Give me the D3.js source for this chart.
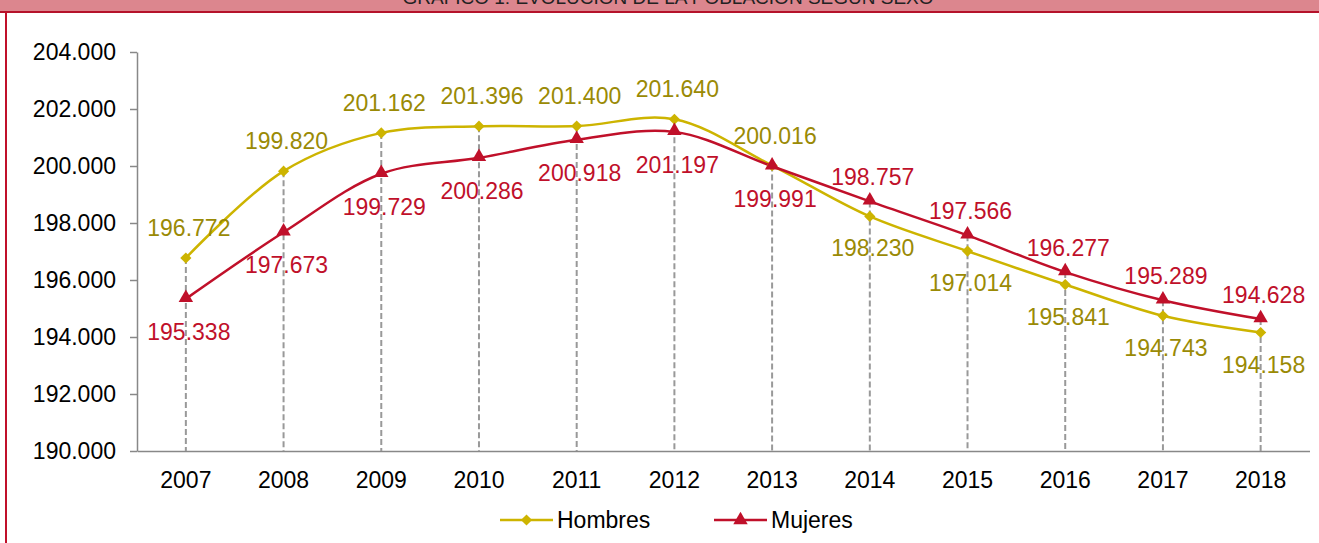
<!DOCTYPE html>
<html><head><meta charset="utf-8">
<script src="https://cdn.jsdelivr.net/npm/d3@7"></script>
<style>
html,body{margin:0;padding:0;background:#fff;}
svg{display:block;font-family:"Liberation Sans",Arial,sans-serif;}
</style></head>
<body>
<svg id="chart" width="1319" height="543"></svg>
<script>
const title = "GRÁFICO 1: EVOLUCIÓN DE LA POBLACIÓN SEGÚN SEXO";
const years = ["2007","2008","2009","2010","2011","2012","2013","2014","2015","2016","2017","2018"];
const hombres = [196772,199820,201162,201396,201400,201640,200016,198230,197014,195841,194743,194158];
const mujeres = [195338,197673,199729,200286,200918,201197,199991,198757,197566,196277,195289,194628];
const hombresLabelPos = ["up","up","up","up","up","up","up","down","down","down","down","down"];
const mujeresLabelPos = ["down","down","down","down","down","down","down","up","up","up","up","up"];
const yTicks = [190000,192000,194000,196000,198000,200000,202000,204000];
const seriesNames = ["Hombres","Mujeres"];

const svg = d3.select("#chart");
const W = 1319, H = 543;
const FS = 23;

// header band
svg.append("rect").attr("x",0).attr("y",0).attr("width",W).attr("height",11).attr("fill","#DC868E");
svg.append("rect").attr("x",0).attr("y",11).attr("width",W).attr("height",2).attr("fill","#B5122B");
svg.append("text").attr("x",668).attr("y",4).attr("text-anchor","middle")
  .attr("font-size",19).attr("fill","#222").text(title);
// left frame
svg.append("rect").attr("x",5).attr("y",12).attr("width",2).attr("height",H-12).attr("fill","#C0102A");

const x = d3.scaleBand().domain(years).range([137,1309.5]);
const y = d3.scaleLinear().domain([190000,204000]).range([451,52]);
const cx = d => x(d) + x.bandwidth()/2;
const fmt = v => d3.format(",")(v).replace(/,/g,".");

// y axis
const ya = svg.append("g").attr("transform","translate(137,0)")
  .call(d3.axisLeft(y).tickValues(yTicks).tickSize(7).tickSizeOuter(0).tickFormat(fmt));
ya.select(".domain").attr("stroke","#888").attr("stroke-width",1.5);
ya.selectAll(".tick line").attr("stroke","#888").attr("stroke-width",1.5);
ya.selectAll(".tick text").attr("font-size",FS).attr("fill","#000").attr("x",-21)
  .attr("font-family","Liberation Sans, Arial, sans-serif");

// x axis
const xa = svg.append("g").attr("transform","translate(0,451)")
  .call(d3.axisBottom(x).tickSize(0).tickSizeOuter(0));
xa.select(".domain").attr("stroke","#888").attr("stroke-width",1.5);
xa.selectAll(".tick text").attr("font-size",FS).attr("fill","#000").attr("dy","0").attr("y",37)
  .attr("font-family","Liberation Sans, Arial, sans-serif");

// drop lines
svg.append("g").selectAll("line").data(years).join("line")
  .attr("x1",d=>cx(d)).attr("x2",d=>cx(d))
  .attr("y1",(d,i)=>y(Math.max(hombres[i],mujeres[i]))).attr("y2",451)
  .attr("stroke","#999").attr("stroke-width",2).attr("stroke-dasharray","6,3");

const line = d3.line().x(d=>cx(d.year)).y(d=>y(d.v)).curve(d3.curveCatmullRom.alpha(0.5));
const hData = years.map((yr,i)=>({year:yr,v:hombres[i]}));
const mData = years.map((yr,i)=>({year:yr,v:mujeres[i]}));

const hColor = "#CDB400", hLabel = "#9A8A05";
const mColor = "#C0102A", mLabel = "#C0102A";

svg.append("path").datum(hData).attr("d",line).attr("fill","none").attr("stroke",hColor).attr("stroke-width",2.5);
svg.append("path").datum(mData).attr("d",line).attr("fill","none").attr("stroke",mColor).attr("stroke-width",2.5);

const diamond = d3.symbol().type(d3.symbolDiamond2).size(80);
const tri = d3.symbol().type(d3.symbolTriangle).size(90);

svg.append("g").selectAll("path").data(hData).join("path")
  .attr("d",diamond).attr("transform",d=>`translate(${cx(d.year)},${y(d.v)})`).attr("fill",hColor);
svg.append("g").selectAll("path").data(mData).join("path")
  .attr("d",tri).attr("transform",d=>`translate(${cx(d.year)},${y(d.v)-1})`).attr("fill",mColor);

// data labels
svg.append("g").selectAll("text").data(hData).join("text")
  .attr("x",d=>cx(d.year)+3).attr("y",(d,i)=>y(d.v)+(hombresLabelPos[i]==="up"?-30:32))
  .attr("dy","0.35em").attr("text-anchor","middle").attr("font-size",FS).attr("fill",hLabel)
  .text(d=>fmt(d.v));
svg.append("g").selectAll("text").data(mData).join("text")
  .attr("x",d=>cx(d.year)+3).attr("y",(d,i)=>y(d.v)+(mujeresLabelPos[i]==="up"?-24:33))
  .attr("dy","0.35em").attr("text-anchor","middle").attr("font-size",FS).attr("fill",mLabel)
  .text(d=>fmt(d.v));

// legend
const leg = svg.append("g");
const items = [{n:seriesNames[0],c:hColor,s:diamond,x0:500},{n:seriesNames[1],c:mColor,s:tri,x0:714}];
items.forEach(it=>{
  leg.append("line").attr("x1",it.x0).attr("x2",it.x0+53).attr("y1",520).attr("y2",520)
    .attr("stroke",it.c).attr("stroke-width",2.5);
  leg.append("path").attr("d",it.s).attr("transform",`translate(${it.x0+26.5},${520})`).attr("fill",it.c);
  leg.append("text").attr("x",it.x0+57).attr("y",520).attr("dy","0.35em").attr("font-size",FS)
    .attr("fill","#000").text(it.n);
});
</script>
</body></html>
